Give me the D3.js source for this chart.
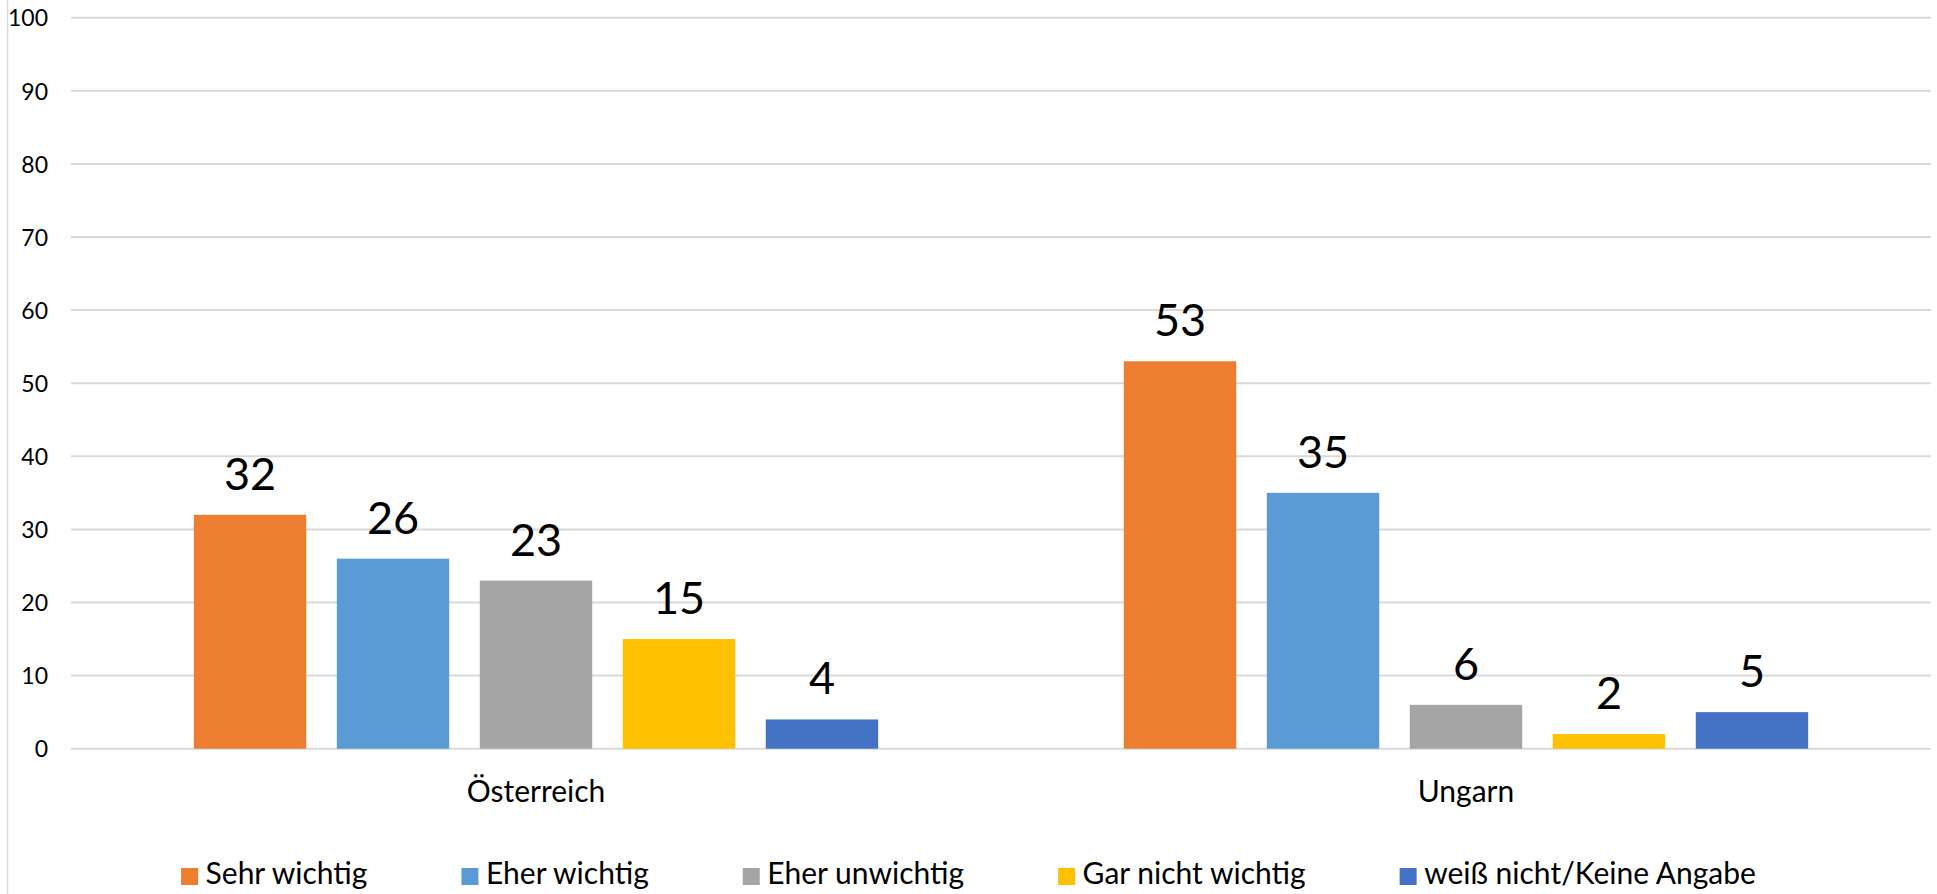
<!DOCTYPE html>
<html>
<head>
<meta charset="utf-8">
<script src="https://cdn.jsdelivr.net/npm/d3@7"></script>
<style>
  html, body { margin: 0; padding: 0; background: #fff; }
  svg { display: block; font-family: Lato, "Open Sans", sans-serif; }
</style>
</head>
<body>
<svg id="chart" width="1937" height="894"></svg>
<script>
const categories = ["Österreich", "Ungarn"];
const seriesNames = ["Sehr wichtig", "Eher wichtig", "Eher unwichtig", "Gar nicht wichtig", "weiß nicht/Keine Angabe"];
const seriesColors = ["#ED7D31", "#5B9BD5", "#A5A5A5", "#FFC000", "#4472C4"];
const valuesOesterreich = [32, 26, 23, 15, 4];
const valuesUngarn = [53, 35, 6, 2, 5];
const yTicks = [0, 10, 20, 30, 40, 50, 60, 70, 80, 90, 100];

const dataByCategory = [valuesOesterreich, valuesUngarn];

const W = 1937, H = 894;
const plot = { left: 71, right: 1931, top: 17.7, bottom: 748.7 };

const svg = d3.select("#chart");

// left border line of chart area
svg.append("line")
  .attr("x1", 7.5).attr("x2", 7.5).attr("y1", 0).attr("y2", H)
  .attr("stroke", "#d9d9d9").attr("stroke-width", 1.5);

const y = d3.scaleLinear().domain([0, 100]).range([plot.bottom, plot.top]);
const x0 = d3.scaleBand().domain(categories).range([plot.left, plot.right]).padding(0);
const x1 = d3.scaleBand().domain(seriesNames).range([0, x0.bandwidth()])
  .paddingInner(0.214).paddingOuter(0.859);

// gridlines
svg.append("g").selectAll("line").data(yTicks).join("line")
  .attr("x1", plot.left).attr("x2", plot.right)
  .attr("y1", d => y(d)).attr("y2", d => y(d))
  .attr("stroke", "#d9d9d9").attr("stroke-width", 2);

// y axis labels
const yAxis = d3.axisLeft(y).tickValues(yTicks).tickSize(0).tickPadding(0);
const gy = svg.append("g").attr("transform", `translate(48,0)`).call(yAxis);
gy.select(".domain").remove();
gy.selectAll("text").attr("font-size", 23).attr("font-family", "Lato, sans-serif")
  .attr("fill", "#000").attr("dy", "0.36em");

// bars
const groups = svg.append("g").selectAll("g").data(categories).join("g")
  .attr("transform", d => `translate(${x0(d)},0)`);

groups.each(function(cat, ci) {
  const g = d3.select(this);
  const vals = dataByCategory[ci];
  const rows = seriesNames.map((s, i) => ({ s, v: vals[i], c: seriesColors[i] }));
  g.selectAll("rect").data(rows).join("rect")
    .attr("x", d => x1(d.s))
    .attr("width", x1.bandwidth())
    .attr("y", d => y(d.v))
    .attr("height", d => y(0) - y(d.v))
    .attr("fill", d => d.c);
  g.selectAll("text.val").data(rows).join("text")
    .attr("class", "val")
    .attr("x", d => x1(d.s) + x1.bandwidth() / 2)
    .attr("y", d => y(d.v) - 25)
    .attr("text-anchor", "middle")
    .attr("font-size", 45)
    .attr("fill", "#000")
    .text(d => d.v);
});

// category labels
const xAxis = d3.axisBottom(x0).tickSize(0).tickPadding(0);
const gx = svg.append("g").attr("transform", `translate(0,802)`).call(xAxis);
gx.select(".domain").remove();
gx.selectAll("text").attr("font-size", 30).attr("font-family", "Lato, sans-serif")
  .attr("fill", "#000").attr("dy", 0);

// legend
const legend = svg.append("g");
const items = legend.selectAll("g").data(seriesNames).join("g");
items.append("rect").attr("width", 17).attr("height", 17).attr("y", 868)
  .attr("fill", (d, i) => seriesColors[i]);
items.append("text").attr("x", 24.5).attr("y", 884).attr("font-size", 30)
  .attr("fill", "#000").text(d => d);
let widths = [];
items.each(function() { widths.push(d3.select(this).select("text").node().getComputedTextLength()); });
const gap = 94;
const total = widths.reduce((a, w) => a + 24.5 + w, 0) + gap * (widths.length - 1);
let cx = W / 2 - total / 2;
items.each(function(d, i) {
  d3.select(this).attr("transform", `translate(${cx},0)`);
  cx += 24.5 + widths[i] + gap;
});
</script>
</body>
</html>
